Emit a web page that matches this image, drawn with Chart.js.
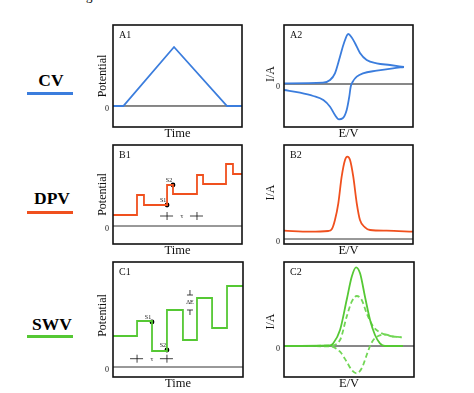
<!DOCTYPE html>
<html>
<head>
<meta charset="utf-8">
<script src="https://cdn.jsdelivr.net/npm/chart.js@4.4.1/dist/chart.umd.min.js"></script>
<style>
  body { margin: 0; background: #fff; }
  #wrap { position: relative; width: 474px; height: 393px; overflow: hidden; font-family: "Liberation Serif", serif; }
  #wrap canvas { position: absolute; left: 0; top: 0; }
  .method { position: absolute; font-weight: bold; font-size: 17.5px; line-height: 1; transform: translate(-50%, -50%); }
  .rule { position: absolute; left: 27px; width: 46px; height: 2.5px; }
</style>
</head>
<body>
<div id="wrap">
  <div style="position:absolute;left:86px;top:-11px;font-size:13px;line-height:13px;">g</div>
  <div class="method" style="left:51px;top:81px;">CV</div>
  <div class="rule" style="top:92px;background:#3b7ddd;"></div>
  <div class="method" style="left:52px;top:199px;">DPV</div>
  <div class="rule" style="top:211px;background:#f0501e;"></div>
  <div class="method" style="left:52px;top:325px;">SWV</div>
  <div class="rule" style="top:335px;background:#55c834;"></div>
  <canvas id="a1" width="474" height="393"></canvas>
  <canvas id="a2" width="474" height="393"></canvas>
  <canvas id="b1" width="474" height="393"></canvas>
  <canvas id="b2" width="474" height="393"></canvas>
  <canvas id="c1" width="474" height="393"></canvas>
  <canvas id="c2" width="474" height="393"></canvas>
</div>
<script>
// ---- data (arbitrary units) ----
// A1: CV potential waveform
const cvTime = [0, 8, 47.3, 88.4, 100];
const cvPotential = [0, 0, 1, 0, 0];

// A2: cyclic voltammogram, forward and reverse branches
const cvFwdE = [0, 30.2, 35.7, 39.5, 43.4, 46.5, 49.8, 52.5, 55, 58.9, 64.1, 71.9, 82.2, 93];
const cvFwdI = [0.7, 1.3, 4, 10.7, 27.3, 41, 50, 46.5, 41, 31, 24, 20.7, 19, 17];
const cvRevE = [0, 12.4, 22.7, 30.5, 35.7, 39.5, 42.6, 45.5, 48.6, 50.6, 51.7, 53.3, 56.4, 61.2, 71.9, 84.5, 93];
const cvRevI = [-6, -8.7, -12, -16, -22.7, -31, -35.3, -34.3, -26, -12.7, -2.7, 2.3, 7.3, 10.7, 13.3, 15.7, 17];

// B1: DPV staircase (step start time, level)
const dpvStepT = [0, 18.6, 24, 41.9, 46.5, 65.1, 69.8, 87.6, 93, 100];
const dpvStepV = [11, 31, 21, 41, 32, 51, 42, 62, 52, 52];
const dpvSampleT = [41.9, 46.5];
const dpvSampleV = [21, 41];
const dpvSampleLabels = ['S1', 'S2'];
const dpvTau = [41.9, 65.1];

// B2: DPV peak
const dpvE = [0, 20.2, 34.4, 37, 39.5, 42.1, 44.7, 47.3, 49.1, 51.2, 53.7, 56.4, 58.9, 62.8, 66.7, 79.6, 100];
const dpvI = [8.3, 7.3, 8, 9.7, 19, 35.7, 62.3, 79, 82.3, 79, 62.3, 35.7, 19, 11.7, 9, 8.3, 7.3];

// C1: SWV staircase (step start time, level)
const swvStepT = [0, 18.5, 30, 41.5, 53.8, 64.6, 76.2, 87.7, 100];
const swvStepV = [31, 46, 16, 57, 27, 69, 39, 81, 81];
const swvSampleT = [30, 41.5];
const swvSampleV = [45, 17];
const swvSampleLabels = ['S1', 'S2'];
const swvTau = [18.5, 41.5];
const swvDeltaE = [57, 72];

// C2: SWV net, forward and reverse currents
const swvNetE = [0, 35.4, 37.9, 43.1, 48.2, 52.1, 55.4, 58.5, 62.3, 66.2, 70, 73.8, 77.7, 91.5];
const swvNetI = [0, 0.5, 2.7, 16, 46, 69.3, 78.7, 72.7, 49.3, 26, 11, 2.7, 0, 0];
const swvFwdE = [0, 35.4, 43.1, 48.2, 52.1, 55.9, 59.8, 63.6, 68.7, 75.2, 81.5, 90.5];
const swvFwdI = [0, 0.5, 6, 29.3, 44.3, 50, 46, 32.7, 19.3, 12.7, 10, 8.7];
const swvRevE = [0, 35.4, 43.1, 48.2, 52.1, 55.9, 59.8, 63.6, 66.2, 68.7, 72.5, 77.7, 83.8, 90.5];
const swvRevI = [0, -0.5, -5.7, -15.7, -24, -27.3, -22.3, -9, 0, 6, 10, 11.5, 9.5, 8.7];

const BLUE = '#3b7ddd';
const ORANGE = '#f0501e';
const GREEN = '#55c834';
const GREEN_LIGHT = '#72d656';
const SERIF = '"Liberation Serif", serif';

const pts = (xs, ys) => xs.map((x, i) => ({ x: x, y: ys[i] }));

const panelPlugin = {
  id: 'panel',
  beforeDatasetsDraw(chart, args, opts) {
    const { ctx, chartArea: a, scales: { y } } = chart;
    const y0 = y.getPixelForValue(0);
    ctx.save();
    ctx.strokeStyle = opts.zeroColor || '#111';
    ctx.lineWidth = 1;
    ctx.beginPath();
    ctx.moveTo(a.left, y0);
    ctx.lineTo(a.right, y0);
    ctx.stroke();
    ctx.restore();
  },
  afterDraw(chart, args, opts) {
    const { ctx, chartArea: a, scales: { x, y } } = chart;
    const y0 = y.getPixelForValue(0);
    ctx.save();
    ctx.strokeStyle = '#111';
    ctx.lineWidth = 1.6;
    ctx.strokeRect(a.left, a.top, a.right - a.left, a.bottom - a.top);

    ctx.fillStyle = '#111';
    ctx.font = '10px ' + SERIF;
    ctx.textAlign = 'left';
    ctx.textBaseline = 'middle';
    ctx.fillText(opts.tag, a.left + 6, a.top + 10);

    ctx.font = '8px ' + SERIF;
    ctx.textAlign = 'center';
    ctx.fillText('0', a.left - 6, y0 + 3);

    ctx.font = '12.5px ' + SERIF;
    ctx.fillText(opts.xTitle, (a.left + a.right) / 2, a.bottom + 7);

    ctx.save();
    ctx.translate(a.left - opts.yOffset, (a.top + a.bottom) / 2 + (opts.yShift || 0));
    ctx.rotate(-Math.PI / 2);
    ctx.font = '12px ' + SERIF;
    ctx.fillText(opts.yTitle, 0, 0);
    ctx.restore();

    if (opts.extra) opts.extra(chart, ctx, x, y);
    ctx.restore();
  }
};
Chart.register(panelPlugin);

function tauMarks(ctx, x, y, ts, level) {
  const py = y.getPixelForValue(level);
  ctx.strokeStyle = '#111';
  ctx.lineWidth = 0.8;
  ts.forEach(t => {
    const px = x.getPixelForValue(t);
    ctx.beginPath();
    ctx.moveTo(px - 7, py); ctx.lineTo(px + 6, py);
    ctx.moveTo(px, py - 4); ctx.lineTo(px, py + 4);
    ctx.stroke();
  });
  ctx.font = '7px ' + SERIF;
  ctx.textAlign = 'center';
  ctx.textBaseline = 'middle';
  ctx.fillText('\u03c4', (x.getPixelForValue(ts[0]) + x.getPixelForValue(ts[1])) / 2, py);
}

function sampleLabels(ctx, x, y, ts, vs, labels) {
  ctx.font = '6px ' + SERIF;
  ctx.textAlign = 'center';
  ctx.textBaseline = 'middle';
  ts.forEach((t, i) => {
    ctx.fillText(labels[i], x.getPixelForValue(t) - 4, y.getPixelForValue(vs[i]) - 5);
  });
}

function makePanel(id, box, yMin, yMax, datasets, panel) {
  return new Chart(document.getElementById(id), {
    type: 'line',
    data: { datasets: datasets },
    options: {
      responsive: false,
      animation: false,
      devicePixelRatio: 1,
      layout: { padding: { left: box[0], top: box[1], right: 474 - box[2], bottom: 393 - box[3] } },
      plugins: { legend: { display: false }, tooltip: { enabled: false }, panel: panel },
      scales: {
        x: { type: 'linear', display: false, min: 0, max: 100 },
        y: { type: 'linear', display: false, min: yMin, max: yMax }
      },
      elements: { point: { radius: 0 }, line: { borderWidth: 1.8 } }
    }
  });
}

const curve = (data, color, dash) => ({
  data: data, borderColor: color, borderDash: dash || [],
  cubicInterpolationMode: 'monotone', fill: false
});
const steps = (data, color) => ({ data: data, borderColor: color, stepped: 'before', fill: false });
const dots = (data) => ({
  data: data, showLine: false, pointRadius: 2.4, pointBackgroundColor: '#000', pointBorderWidth: 0
});

makePanel('a1', [113, 25, 242, 127], -0.356, 1.373,
  [{ data: pts(cvTime, cvPotential), borderColor: BLUE, fill: false }],
  { tag: 'A1', xTitle: 'Time', yTitle: 'Potential', yOffset: 10 });

makePanel('a2', [284, 25, 413, 127], -43, 59,
  [curve(pts(cvFwdE, cvFwdI), BLUE), curve(pts(cvRevE, cvRevI), BLUE)],
  { tag: 'A2', xTitle: 'E/V', yTitle: 'I/A', yOffset: 13, yShift: -2 });

makePanel('b1', [113, 145, 242, 244], -18, 81,
  [steps(pts(dpvStepT, dpvStepV), ORANGE), dots(pts(dpvSampleT, dpvSampleV))],
  { tag: 'B1', xTitle: 'Time', yTitle: 'Potential', yOffset: 10, zeroColor: '#333',
    extra: (c, ctx, x, y) => {
      sampleLabels(ctx, x, y, dpvSampleT, dpvSampleV, dpvSampleLabels);
      tauMarks(ctx, x, y, dpvTau, 10);
    } });

makePanel('b2', [284, 145, 413, 244], -5, 94,
  [curve(pts(dpvE, dpvI), ORANGE)],
  { tag: 'B2', xTitle: 'E/V', yTitle: 'I/A', yOffset: 13, yShift: -2, zeroColor: '#333' });

makePanel('c1', [113, 262, 243, 377], -10, 105,
  [steps(pts(swvStepT, swvStepV), GREEN), dots(pts(swvSampleT, swvSampleV))],
  { tag: 'C1', xTitle: 'Time', yTitle: 'Potential', yOffset: 10, yShift: -4, zeroColor: '#333',
    extra: (c, ctx, x, y) => {
      sampleLabels(ctx, x, y, swvSampleT, swvSampleV, swvSampleLabels);
      tauMarks(ctx, x, y, swvTau, 8.3);
      const px = x.getPixelForValue(59.2);
      const lo = y.getPixelForValue(swvDeltaE[0]);
      const hi = y.getPixelForValue(swvDeltaE[1]);
      ctx.lineWidth = 0.8;
      ctx.beginPath();
      ctx.moveTo(px - 3, hi); ctx.lineTo(px + 3, hi);
      ctx.moveTo(px - 3, lo); ctx.lineTo(px + 3, lo);
      ctx.moveTo(px, hi - 5); ctx.lineTo(px, hi);
      ctx.moveTo(px, lo); ctx.lineTo(px, lo + 5);
      ctx.stroke();
      ctx.font = '6px ' + SERIF;
      ctx.fillText('\u0394E', px, (hi + lo) / 2);
    } });

makePanel('c2', [284, 262, 414, 377], -31, 84,
  [curve(pts(swvNetE, swvNetI), GREEN),
   curve(pts(swvFwdE, swvFwdI), GREEN_LIGHT, [5, 3]),
   curve(pts(swvRevE, swvRevI), GREEN_LIGHT, [5, 3])],
  { tag: 'C2', xTitle: 'E/V', yTitle: 'I/A', yOffset: 13, yShift: 2 });
</script>
</body>
</html>
